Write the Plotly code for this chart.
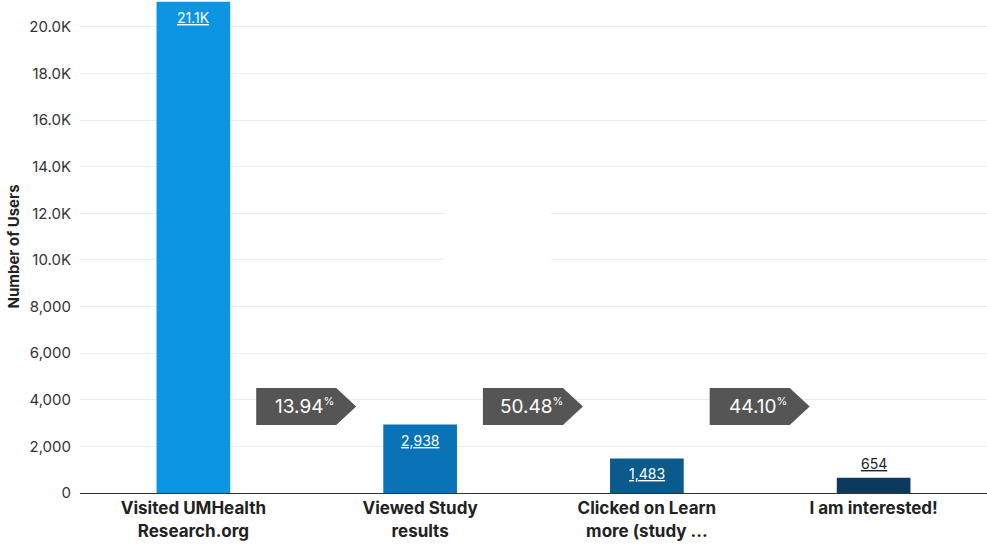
import plotly.graph_objects as go

categories = ["Visited UMHealth<br>Research.org", "Viewed Study<br>results",
              "Clicked on Learn<br>more (study ...", "I am interested!"]
values = [21076, 2938, 1483, 654]
value_labels = ["21.1K", "2,938", "1,483", "654"]
step_pcts = ["13.94", "50.48", "44.10"]
bar_colors = ["#0b95e3", "#0a72b6", "#0a5a8b", "#0c3a5e"]
tick_vals = [0, 2000, 4000, 6000, 8000, 10000, 12000, 14000, 16000, 18000, 20000]
tick_text = ["0", "2,000", "4,000", "6,000", "8,000", "10.0K", "12.0K",
             "14.0K", "16.0K", "18.0K", "20.0K"]

FONT = "Inter, Roboto, sans-serif"

fig = go.Figure()
fig.add_trace(go.Bar(
    x=list(range(len(categories))), y=values,
    marker=dict(color=bar_colors, line=dict(width=0)),
    width=0.325, hoverinfo="skip",
))

annotations = []
for i, (v, lab) in enumerate(zip(values, value_labels)):
    inside = i < 3
    annotations.append(dict(
        x=i, y=v, xref="x", yref="y", text=f"<u>{lab}</u>", showarrow=False,
        yanchor="top" if inside else "bottom", yshift=-5 if inside else 4,
        font=dict(family=FONT, size=14, color="white" if inside else "#222222"),
    ))

shapes = []
ytop, ybot = 4506, 2918
ymid = (ytop + ybot) / 2
for i, p in enumerate(step_pcts):
    x0, x1, xt = i + 0.277, i + 0.63, i + 0.718
    shapes.append(dict(
        type="path", xref="x", yref="y",
        path=f"M {x0} {ybot} L {x0} {ytop} L {x1} {ytop} L {xt} {ymid} L {x1} {ybot} Z",
        fillcolor="#555555", line=dict(width=0), layer="above",
    ))
    annotations.append(dict(
        x=i + 0.49, y=ymid, xref="x", yref="y", showarrow=False,
        text=f"{p}<sup><span style='font-size:11px'>%</span></sup>",
        font=dict(family=FONT, size=19, color="white"),
    ))

# white patch hiding part of the gridlines (as in the reference)
shapes.append(dict(type="rect", xref="x", yref="y", x0=1.106, x1=1.577,
                   y0=9500, y1=12600, fillcolor="white", line=dict(width=0),
                   layer="between"))

fig.update_layout(
    width=987, height=544,
    margin=dict(l=80, r=0, t=0, b=51, autoexpand=False),
    paper_bgcolor="white", plot_bgcolor="white",
    showlegend=False,
    annotations=annotations, shapes=shapes,
    font=dict(family=FONT, color="#333333"),
)
fig.update_xaxes(
    range=[-0.5, 3.5], tickmode="array",
    tickvals=list(range(len(categories))), ticktext=categories,
    tickfont=dict(family=FONT, size=17, color="#222222", weight="bold"),
    showline=True, linecolor="#333333", linewidth=1,
    showgrid=False, ticks="", zeroline=False, automargin=False,
)
fig.update_yaxes(
    range=[0, 21150], tickmode="array", tickvals=tick_vals, ticktext=tick_text,
    tickfont=dict(family=FONT, size=15, color="#333333"),
    showgrid=True, gridcolor="#ebebeb", gridwidth=1, zeroline=False,
    title=dict(text="Number of Users", font=dict(family=FONT, size=15, color="#222222", weight="bold"),
               standoff=6),
    ticks="", ticklabelstandoff=8, automargin=False,
)

fig.write_html("out.html", config={"displayModeBar": False},
               post_script="document.body.style.margin='0';")
